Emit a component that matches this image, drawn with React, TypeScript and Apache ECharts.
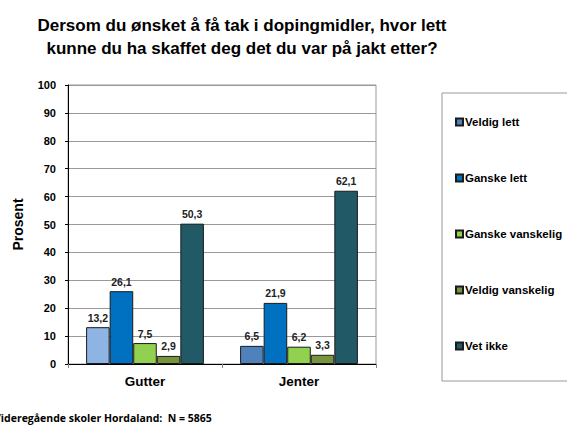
import React, { useEffect, useRef } from "react";
import * as echarts from "echarts";

const categories = ["Gutter", "Jenter"];
const seriesNames = ["Veldig lett", "Ganske lett", "Ganske vanskelig", "Veldig vanskelig", "Vet ikke"];
const veldigLett = [13.2, 6.5];
const ganskeLett = [26.1, 21.9];
const ganskeVanskelig = [7.5, 6.2];
const veldigVanskelig = [2.9, 3.3];
const vetIkke = [50.3, 62.1];
const yTicks = { min: 0, max: 100, interval: 10 };

const titleLines = [
  "Dersom du ønsket å få tak i dopingmidler, hvor lett",
  "kunne du ha skaffet deg det du var på jakt etter?",
];
const footer = "Videregående skoler Hordaland:  N = 5865";

const colors = ["#4F81BD", "#0070C0", "#92D050", "#77933C", "#215967"];
const gutterVeldigLettColor = "#8DB4E2";

export default function App() {
  const ref = useRef<HTMLDivElement>(null);
  useEffect(() => {
    if (!ref.current) return;
    const chart = echarts.init(ref.current, null, { renderer: "svg" });
    const values = [veldigLett, ganskeLett, ganskeVanskelig, veldigVanskelig, vetIkke];
    const font = "'Liberation Sans', Arial, sans-serif";
    chart.setOption({
      animation: false,
      backgroundColor: "#ffffff",
      textStyle: { fontFamily: font },
      title: {
        text: titleLines.join("\n"),
        left: 237,
        top: 9,
        textAlign: "center",
        textStyle: { fontSize: 17, fontWeight: "bold", color: "#000", lineHeight: 23, fontFamily: font },
      },
      legend: {
        orient: "vertical",
        left: 442,
        top: 93,
        padding: [23, 40, 29, 13],
        itemGap: 44,
        itemWidth: 7,
        itemHeight: 7,
        borderColor: "#999",
        borderWidth: 1,
        icon: "rect",
        textStyle: { fontSize: 11.5, fontWeight: "bold", color: "#000", padding: [0, 0, 0, -3], fontFamily: font },
        data: seriesNames,
      },
      grid: {
        left: 68,
        right: 191,
        top: 85,
        bottom: 61,
        show: true,
        borderColor: "#999",
        borderWidth: 1,
      },
      xAxis: {
        type: "category",
        data: categories,
        axisLine: { lineStyle: { color: "#000", width: 1 } },
        axisTick: { show: true, length: 4, lineStyle: { color: "#888" } },
        axisLabel: { fontSize: 13.5, fontWeight: "bold", color: "#000", margin: 10 },
      },
      yAxis: {
        type: "value",
        min: yTicks.min,
        max: yTicks.max,
        interval: yTicks.interval,
        name: "Prosent",
        nameLocation: "middle",
        nameGap: 43,
        nameTextStyle: { fontSize: 14, fontWeight: "bold", color: "#000" },
        axisLine: { show: true, lineStyle: { color: "#000", width: 1 } },
        axisTick: { show: true, length: 3, lineStyle: { color: "#000" } },
        axisLabel: { fontSize: 11, fontWeight: "bold", color: "#000", margin: 12 },
        splitLine: { lineStyle: { color: "#999", width: 1 } },
      },
      series: seriesNames.map((name, i) => ({
        name,
        type: "bar",
        barWidth: "15.3%",
        barGap: "0%",
        itemStyle: { color: colors[i], borderColor: "#1a1a1a", borderWidth: 1 },
        label: {
          show: true,
          position: "top",
          distance: 4,
          fontSize: 10.5,
          fontWeight: "bold",
          color: "#222",
          formatter: (p: any) => String(p.value).replace(".", ","),
        },
        data: values[i].map((v, j) =>
          i === 0 && j === 0 ? { value: v, itemStyle: { color: gutterVeldigLettColor } } : v
        ),
      })),
      graphic: [
        {
          type: "text",
          left: -6,
          top: 412,
          style: { text: footer, fontSize: 10.5, fontWeight: "bold", fill: "#000", fontFamily: "'Open Sans', sans-serif" },
        },
      ],
    });
    return () => chart.dispose();
  }, []);
  return <div ref={ref} style={{ width: 567, height: 425, position: "absolute", left: 0, top: 0 }} />;
}
